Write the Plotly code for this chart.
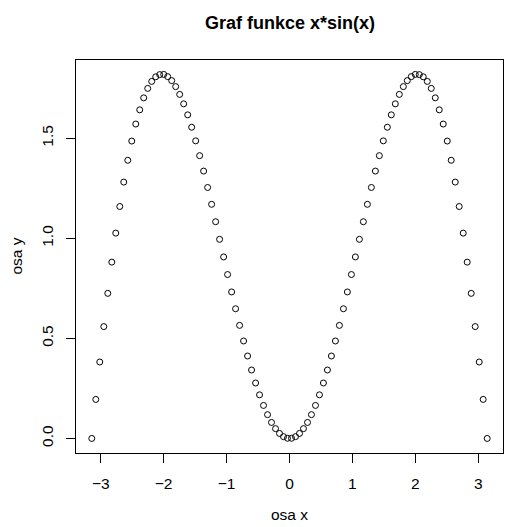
import plotly.graph_objects as go

x_vals = [-3.142, -3.078, -3.015, -2.951, -2.888, -2.824, -2.761, -2.697, -2.634, -2.570,
          -2.507, -2.443, -2.380, -2.317, -2.253, -2.190, -2.126, -2.063, -1.999, -1.936,
          -1.872, -1.809, -1.745, -1.682, -1.618, -1.555, -1.491, -1.428, -1.365, -1.301,
          -1.238, -1.174, -1.111, -1.047, -0.984, -0.920, -0.857, -0.793, -0.730, -0.666,
          -0.603, -0.539, -0.476, -0.413, -0.349, -0.286, -0.222, -0.159, -0.095, -0.032,
          0.032, 0.095, 0.159, 0.222, 0.286, 0.349, 0.413, 0.476, 0.539, 0.603,
          0.666, 0.730, 0.793, 0.857, 0.920, 0.984, 1.047, 1.111, 1.174, 1.238,
          1.301, 1.365, 1.428, 1.491, 1.555, 1.618, 1.682, 1.745, 1.809, 1.872,
          1.936, 1.999, 2.063, 2.126, 2.190, 2.253, 2.317, 2.380, 2.443, 2.507,
          2.570, 2.634, 2.697, 2.761, 2.824, 2.888, 2.951, 3.015, 3.078, 3.142]

y_vals = [0.000, 0.195, 0.382, 0.559, 0.725, 0.881, 1.026, 1.159, 1.281, 1.390,
          1.486, 1.571, 1.642, 1.702, 1.749, 1.784, 1.807, 1.818, 1.819, 1.808,
          1.788, 1.758, 1.719, 1.672, 1.617, 1.555, 1.487, 1.413, 1.336, 1.254,
          1.170, 1.083, 0.995, 0.907, 0.819, 0.732, 0.648, 0.565, 0.487, 0.412,
          0.342, 0.277, 0.218, 0.165, 0.119, 0.080, 0.049, 0.025, 0.009, 0.001,
          0.001, 0.009, 0.025, 0.049, 0.080, 0.119, 0.165, 0.218, 0.277, 0.342,
          0.412, 0.487, 0.565, 0.648, 0.732, 0.819, 0.907, 0.995, 1.083, 1.170,
          1.254, 1.336, 1.413, 1.487, 1.555, 1.617, 1.672, 1.719, 1.758, 1.788,
          1.808, 1.819, 1.818, 1.807, 1.784, 1.749, 1.702, 1.642, 1.571, 1.486,
          1.390, 1.281, 1.159, 1.026, 0.881, 0.725, 0.559, 0.382, 0.195, 0.000]

x_ticks = [-3, -2, -1, 0, 1, 2, 3]
y_ticks = [0.0, 0.5, 1.0, 1.5]
title_text = "Graf funkce x*sin(x)"
x_label = "osa x"
y_label = "osa y"

FONT = "Liberation Sans, Arial, Helvetica, sans-serif"

fig = go.Figure(go.Scatter(
    x=x_vals, y=y_vals, mode="markers",
    marker=dict(symbol="circle-open", size=6, color="black", line=dict(width=1, color="black")),
    hoverinfo="skip", showlegend=False,
))

axis_common = dict(
    showgrid=False, zeroline=False, showline=True, mirror=True,
    linecolor="black", linewidth=1, ticks="outside", ticklen=9, tickwidth=1,
    tickcolor="black", tickfont=dict(family=FONT, size=15.5, color="black"),
)

fig.update_layout(
    width=522, height=527,
    margin=dict(l=68, r=27, t=52, b=82),
    paper_bgcolor="white", plot_bgcolor="white",
    xaxis=dict(range=[-3.393, 3.393], tickvals=x_ticks, ticklabelstandoff=7, **axis_common),
    yaxis=dict(range=[-0.0727, 1.891], tickvals=y_ticks, tickformat=".1f", tickangle=-90,
               ticklabelstandoff=7, **axis_common),
    annotations=[
        dict(text="<b>" + title_text + "</b>", xref="paper", yref="paper", x=0.5, y=1,
             xanchor="center", yanchor="middle", yshift=37, showarrow=False,
             font=dict(family=FONT, size=18, color="black")),
        dict(text=x_label, xref="paper", yref="paper", x=0.5, y=0,
             xanchor="center", yanchor="middle", yshift=-61, showarrow=False,
             font=dict(family=FONT, size=15.5, color="black")),
        dict(text=y_label, xref="paper", yref="paper", x=0, y=0.5, textangle=-90,
             xanchor="center", yanchor="middle", xshift=-60, showarrow=False,
             font=dict(family=FONT, size=15.5, color="black")),
    ],
)

fig.write_html("out.html")
